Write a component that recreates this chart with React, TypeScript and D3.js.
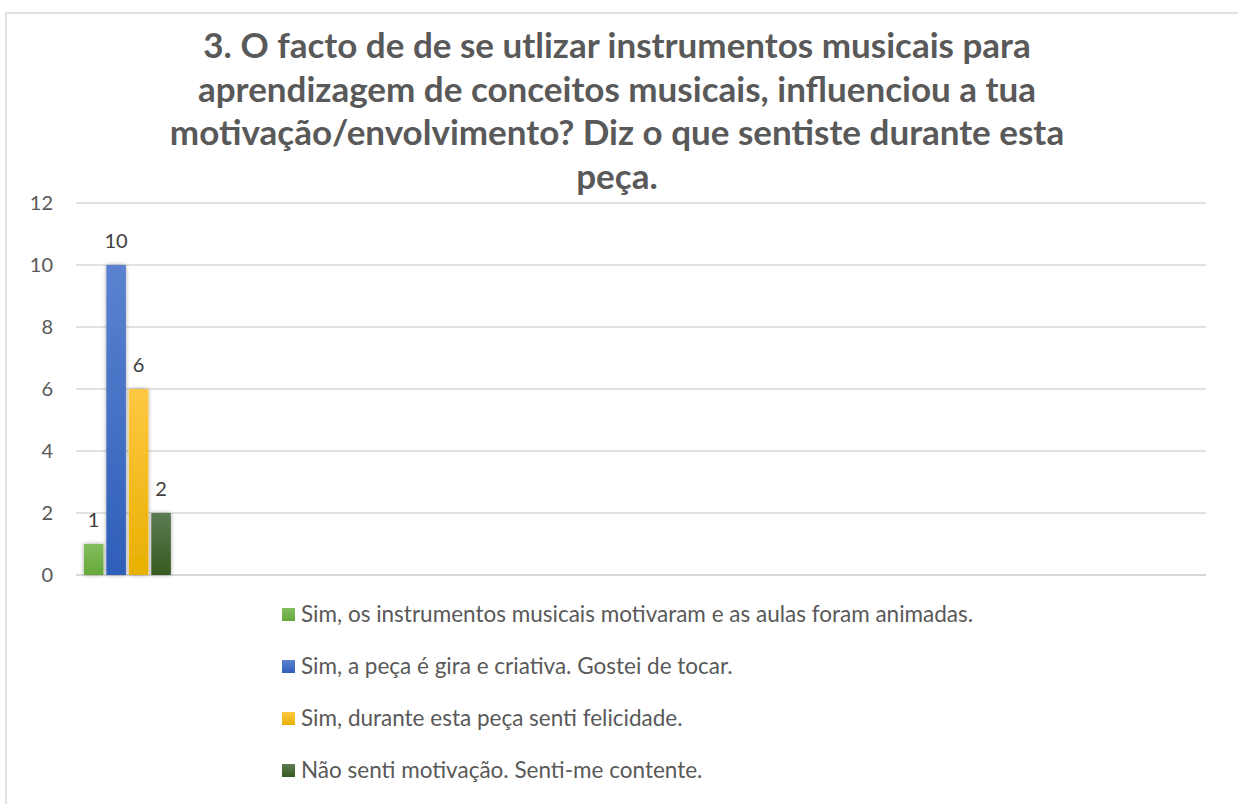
import { useEffect, useRef } from 'react'
import * as d3 from 'd3'

const titleLines = [
  '3. O facto de de se utlizar instrumentos musicais para',
  'aprendizagem de conceitos musicais, influenciou a tua',
  'motivação/envolvimento? Diz o que sentiste durante esta',
  'peça.',
]

const seriesNames = [
  'Sim, os instrumentos musicais motivaram e as aulas foram animadas.',
  'Sim, a peça é gira e criativa. Gostei de tocar.',
  'Sim, durante esta peça senti felicidade.',
  'Não senti motivação. Senti-me contente.',
]
const seriesValues = [1, 10, 6, 2]
const yTicks = [0, 2, 4, 6, 8, 10, 12]

// top / bottom gradient stops per series
const seriesColors = [
  ['#82bd5e', '#66a83a'],
  ['#5b82d0', '#2e5fb9'],
  ['#ffc843', '#e8b000'],
  ['#5c7b52', '#365b20'],
]

const FONT = 'Lato, "Open Sans", sans-serif'
const SLOTS = 11

export default function App() {
  const svgRef = useRef<SVGSVGElement>(null)

  useEffect(() => {
    const width = 1238
    const height = 804
    const svg = d3.select(svgRef.current)
    svg.selectAll('*').remove()
    svg.attr('width', width).attr('height', height)

    const defs = svg.append('defs')
    seriesColors.forEach((c, i) => {
      const g = defs
        .append('linearGradient')
        .attr('id', `grad${i}`)
        .attr('x1', 0)
        .attr('y1', 0)
        .attr('x2', 0)
        .attr('y2', 1)
      g.append('stop').attr('offset', '0%').attr('stop-color', c[0])
      g.append('stop').attr('offset', '100%').attr('stop-color', c[1])
    })
    const f = defs
      .append('filter')
      .attr('id', 'shadow')
      .attr('x', '-50%')
      .attr('y', '-20%')
      .attr('width', '200%')
      .attr('height', '140%')
    f.append('feDropShadow')
      .attr('dx', 0)
      .attr('dy', 0)
      .attr('stdDeviation', 2)
      .attr('flood-color', '#000')
      .attr('flood-opacity', 0.35)

    svg
      .append('rect')
      .attr('width', width)
      .attr('height', height)
      .attr('fill', '#fff')

    // chart area border (runs off the right and bottom edges)
    svg
      .append('rect')
      .attr('x', 6)
      .attr('y', 13)
      .attr('width', width + 20)
      .attr('height', height + 20)
      .attr('fill', 'none')
      .attr('stroke', '#d9d9d9')
      .attr('stroke-width', 1.5)

    svg
      .append('g')
      .selectAll('text')
      .data(titleLines)
      .join('text')
      .attr('x', 617)
      .attr('y', (_, i) => 58 + i * 43.5)
      .attr('text-anchor', 'middle')
      .attr('font-family', FONT)
      .attr('font-weight', 700)
      .attr('font-size', 35)
      .attr('fill', '#595959')
      .text((d) => d)

    const left = 76
    const right = 1206
    const top = 203
    const bottom = 575

    const y = d3.scaleLinear().domain([0, 12]).range([bottom, top])
    const x0 = d3.scaleBand<number>().domain(d3.range(SLOTS)).range([left, right])
    const x1 = d3
      .scaleBand<number>()
      .domain(d3.range(seriesValues.length))
      .range([0, x0.bandwidth()])
      .paddingInner(0.13)
      .paddingOuter(0.35)

    const grid = svg.append('g')
    grid
      .selectAll('line')
      .data(yTicks)
      .join('line')
      .attr('x1', left)
      .attr('x2', right)
      .attr('y1', (d) => y(d))
      .attr('y2', (d) => y(d))
      .attr('stroke', '#d9d9d9')
      .attr('stroke-width', (d) => (d === 0 ? 2 : 1.5))

    grid
      .selectAll('text')
      .data(yTicks)
      .join('text')
      .attr('x', 53)
      .attr('y', (d) => y(d))
      .attr('dy', '0.35em')
      .attr('text-anchor', 'end')
      .attr('font-family', FONT)
      .attr('font-size', 20)
      .attr('fill', '#595959')
      .text((d) => d)

    const bars = svg.append('g').attr('filter', 'url(#shadow)')
    bars
      .selectAll('rect')
      .data(seriesValues)
      .join('rect')
      .attr('x', (_, i) => x0(0)! + x1(i)!)
      .attr('y', (d) => y(d))
      .attr('width', x1.bandwidth())
      .attr('height', (d) => bottom - y(d))
      .attr('fill', (_, i) => `url(#grad${i})`)

    svg
      .append('g')
      .selectAll('text')
      .data(seriesValues)
      .join('text')
      .attr('x', (_, i) => x0(0)! + x1(i)! + x1.bandwidth() / 2)
      .attr('y', (d) => y(d) - 17.5)
      .attr('text-anchor', 'middle')
      .attr('font-family', FONT)
      .attr('font-size', 20)
      .attr('fill', '#404040')
      .text((d) => d)

    const legend = svg
      .append('g')
      .selectAll('g')
      .data(seriesNames)
      .join('g')
      .attr('transform', (_, i) => `translate(282,${622 + i * 52})`)
    legend
      .append('rect')
      .attr('x', 0)
      .attr('y', -14)
      .attr('width', 13)
      .attr('height', 13)
      .attr('fill', (_, i) => `url(#grad${i})`)
    legend
      .append('text')
      .attr('x', 19)
      .attr('y', 0)
      .attr('font-family', FONT)
      .attr('font-size', 22.5)
      .attr('fill', '#595959')
      .text((d) => d)
  }, [])

  return <svg ref={svgRef} style={{ position: 'absolute', left: 0, top: 0 }} />
}
